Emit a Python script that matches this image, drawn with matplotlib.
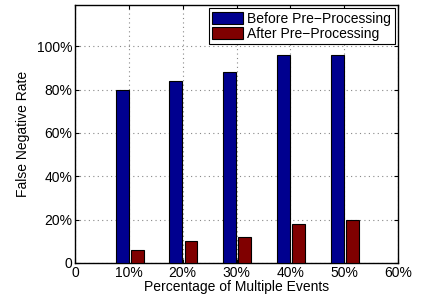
import numpy as np
import matplotlib.pyplot as plt

plt.rcParams['font.family'] = ['Liberation Sans', 'DejaVu Sans']

pct = [10, 20, 30, 40, 50]
before = [80, 84, 88, 96, 96]
after = [6, 10, 12, 18, 20]
xticks = [0, 10, 20, 30, 40, 50, 60]
xlabels = ['0', '10%', '20%', '30%', '40%', '50%', '60%']
yticks = [0, 20, 40, 60, 80, 100]
ylabels = ['0', '20%', '40%', '60%', '80%', '100%']

fig = plt.figure(figsize=(4.26, 3.04), dpi=100)
ax = fig.add_axes([75/426, 1 - 263/304, (398-75)/426, (263-5)/304])

x = np.array(pct)
w = 2.4
ax.bar(x - 1.25, before, w, color='#00008f', edgecolor='black', linewidth=0.8,
       label='Before Pre\u2212Processing', zorder=3)
ax.bar(x + 1.55, after, w, color='#800000', edgecolor='black', linewidth=0.8,
       label='After Pre\u2212Processing', zorder=3)

ax.set_xlim(0, 60)
ax.set_ylim(0, 119)
ax.set_xticks(xticks)
ax.set_xticklabels(xlabels)
ax.set_yticks(yticks)
ax.set_yticklabels(ylabels)
ax.tick_params(direction='in', top=True, right=True, labelsize=10, length=3, pad=2)
ax.grid(True, linestyle=(0, (1, 3)), color='#888888', linewidth=0.8, zorder=0)
for s in ax.spines.values():
    s.set_linewidth(1.0)

ax.set_xlabel('Percentage of Multiple Events', fontsize=10, labelpad=0)
ax.set_ylabel('False Negative Rate', fontsize=10, labelpad=5)

leg = ax.legend(loc='upper right', fontsize=10, fancybox=False, framealpha=1,
                edgecolor='black', borderaxespad=0.25, handlelength=2.2,
                handleheight=0.95, borderpad=0.25, labelspacing=0.05,
                handletextpad=0.3)
leg.get_frame().set_linewidth(0.8)

fig.savefig('out.png', dpi=100)
